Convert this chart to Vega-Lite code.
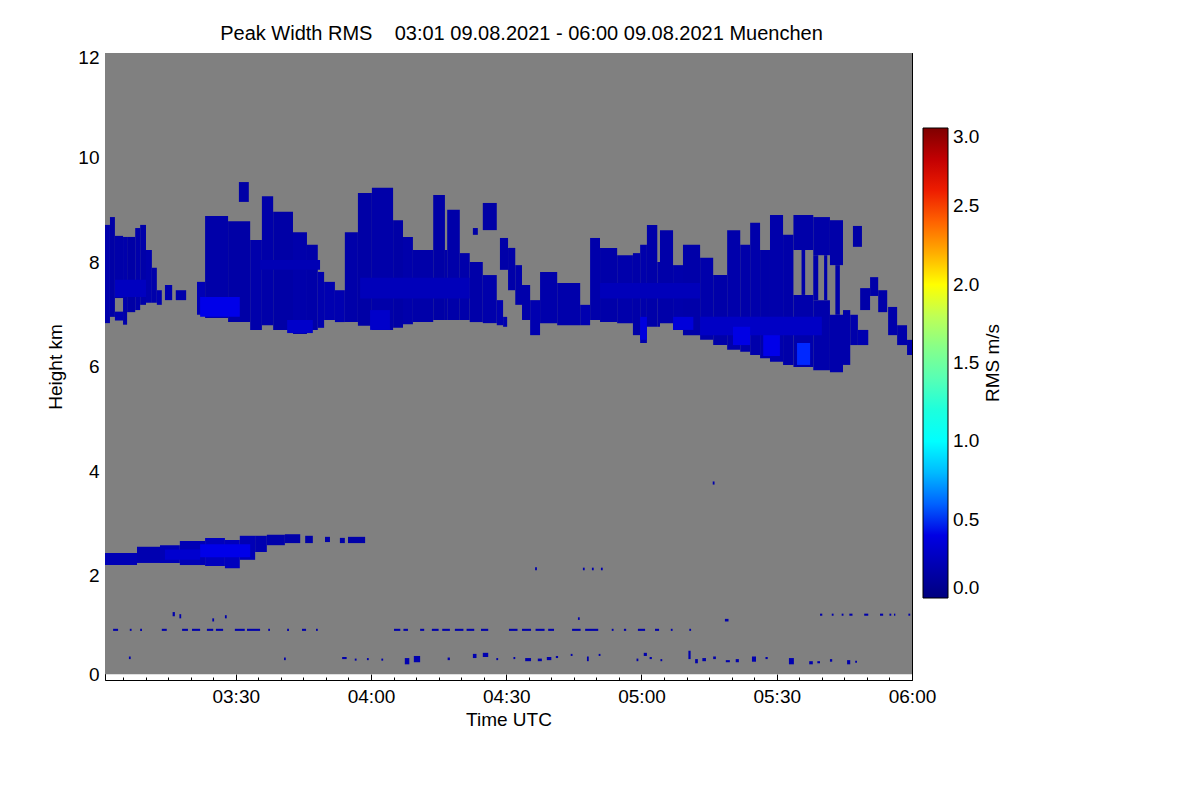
{
  "$schema": "https://vega.github.io/schema/vega-lite/v6.json",
  "width": 807,
  "height": 627,
  "autosize": {"type": "none"},
  "padding": {"left": 105, "top": 53, "right": 288, "bottom": 120},
  "background": "white",
  "title": {
    "text": "Peak Width RMS\u00a0\u00a0\u00a0 03:01 09.08.2021 - 06:00 09.08.2021 Muenchen",
    "font": "Liberation Sans",
    "fontSize": 20,
    "fontWeight": "normal",
    "color": "black",
    "anchor": "middle",
    "dx": 13,
    "offset": 9,
    "dy": 5
  },
  "config": {
    "font": "Liberation Sans",
    "view": {"stroke": null},
    "axis": {
      "grid": false,
      "zindex": 1,
      "tickColor": "black",
      "tickWidth": 1,
      "domainColor": "black",
      "domainWidth": 1,
      "labelFont": "Liberation Sans",
      "labelFontSize": 19,
      "labelColor": "black",
      "titleFont": "Liberation Sans",
      "titleFontSize": 19,
      "titleFontWeight": "normal",
      "titleColor": "black"
    }
  },
  "datasets": {
    "bg": [{"t0": 1, "t1": 180, "h0": 0.11, "h1": 12}],
    "cloud": [
      {"t0": 1, "t1": 2.1, "h0": 6.83, "h1": 8.71, "rms": 0.18},
      {"t0": 2.1, "t1": 3.2, "h0": 6.95, "h1": 8.86, "rms": 0.16},
      {"t0": 3.2, "t1": 5.0, "h0": 7.31, "h1": 8.5, "rms": 0.17},
      {"t0": 3.2, "t1": 5.0, "h0": 6.88, "h1": 7.05, "rms": 0.2},
      {"t0": 5.0, "t1": 5.9, "h0": 6.8, "h1": 8.48, "rms": 0.18},
      {"t0": 5.9, "t1": 7.7, "h0": 7.04, "h1": 8.48, "rms": 0.16},
      {"t0": 7.7, "t1": 8.8, "h0": 7.08, "h1": 8.65, "rms": 0.18},
      {"t0": 8.8, "t1": 10.1, "h0": 7.18, "h1": 8.71, "rms": 0.17},
      {"t0": 10.1, "t1": 11.4, "h0": 7.22, "h1": 8.23, "rms": 0.19},
      {"t0": 11.4, "t1": 12.5, "h0": 7.22, "h1": 7.89, "rms": 0.18},
      {"t0": 12.5, "t1": 13.6, "h0": 7.18, "h1": 7.46, "rms": 0.2},
      {"t0": 14.3, "t1": 15.9, "h0": 7.27, "h1": 7.56, "rms": 0.2},
      {"t0": 16.7, "t1": 19.0, "h0": 7.27, "h1": 7.46, "rms": 0.18},
      {"t0": 21.4, "t1": 23.2, "h0": 6.99, "h1": 7.62, "rms": 0.22},
      {"t0": 23.2, "t1": 28.3, "h0": 6.93, "h1": 8.88, "rms": 0.17},
      {"t0": 28.3, "t1": 33.2, "h0": 6.85, "h1": 8.78, "rms": 0.16},
      {"t0": 33.2, "t1": 35.8, "h0": 6.7, "h1": 8.42, "rms": 0.18},
      {"t0": 35.8, "t1": 38.3, "h0": 6.79, "h1": 9.26, "rms": 0.17},
      {"t0": 38.3, "t1": 42.7, "h0": 6.7, "h1": 8.96, "rms": 0.16},
      {"t0": 42.7, "t1": 45.8, "h0": 6.62, "h1": 8.57, "rms": 0.18},
      {"t0": 45.8, "t1": 48.2, "h0": 6.7, "h1": 8.33, "rms": 0.17},
      {"t0": 48.2, "t1": 49.6, "h0": 6.74, "h1": 7.81, "rms": 0.19},
      {"t0": 49.6, "t1": 52.0, "h0": 6.89, "h1": 7.62, "rms": 0.2},
      {"t0": 52.0, "t1": 54.2, "h0": 6.85, "h1": 7.46, "rms": 0.2},
      {"t0": 30.7, "t1": 32.9, "h0": 9.15, "h1": 9.53, "rms": 0.16},
      {"t0": 54.2, "t1": 57.1, "h0": 6.85, "h1": 8.57, "rms": 0.17},
      {"t0": 57.1, "t1": 60.2, "h0": 6.78, "h1": 9.32, "rms": 0.16},
      {"t0": 60.2, "t1": 64.9, "h0": 6.7, "h1": 9.42, "rms": 0.17},
      {"t0": 64.9, "t1": 67.1, "h0": 6.74, "h1": 8.8, "rms": 0.16},
      {"t0": 67.1, "t1": 69.3, "h0": 6.81, "h1": 8.48, "rms": 0.18},
      {"t0": 69.3, "t1": 73.8, "h0": 6.85, "h1": 8.23, "rms": 0.17},
      {"t0": 73.8, "t1": 76.4, "h0": 6.89, "h1": 9.28, "rms": 0.16},
      {"t0": 76.4, "t1": 76.9, "h0": 6.89, "h1": 8.23, "rms": 0.17},
      {"t0": 76.9, "t1": 79.7, "h0": 6.89, "h1": 9.0, "rms": 0.17},
      {"t0": 79.7, "t1": 81.9, "h0": 6.89, "h1": 8.17, "rms": 0.18},
      {"t0": 81.9, "t1": 84.8, "h0": 6.85, "h1": 8.0, "rms": 0.17},
      {"t0": 84.8, "t1": 87.9, "h0": 6.83, "h1": 7.75, "rms": 0.18},
      {"t0": 84.8, "t1": 87.9, "h0": 8.61, "h1": 9.13, "rms": 0.16},
      {"t0": 87.9, "t1": 89.3, "h0": 6.79, "h1": 7.27, "rms": 0.2},
      {"t0": 89.3, "t1": 90.2, "h0": 6.76, "h1": 6.95, "rms": 0.2},
      {"t0": 82.6, "t1": 83.7, "h0": 8.52, "h1": 8.65, "rms": 0.16},
      {"t0": 88.6, "t1": 90.4, "h0": 7.85, "h1": 8.46, "rms": 0.17},
      {"t0": 90.4, "t1": 92.0, "h0": 7.46, "h1": 8.27, "rms": 0.17},
      {"t0": 92.0, "t1": 93.5, "h0": 7.18, "h1": 7.94, "rms": 0.18},
      {"t0": 93.5, "t1": 95.3, "h0": 6.89, "h1": 7.56, "rms": 0.18},
      {"t0": 95.3, "t1": 97.5, "h0": 6.6, "h1": 7.27, "rms": 0.2},
      {"t0": 97.5, "t1": 101.3, "h0": 6.83, "h1": 7.81, "rms": 0.18},
      {"t0": 101.3, "t1": 106.4, "h0": 6.79, "h1": 7.6, "rms": 0.18},
      {"t0": 106.4, "t1": 108.6, "h0": 6.79, "h1": 7.18, "rms": 0.2},
      {"t0": 108.6, "t1": 110.8, "h0": 6.89, "h1": 8.46, "rms": 0.18},
      {"t0": 110.8, "t1": 114.6, "h0": 6.85, "h1": 8.27, "rms": 0.17},
      {"t0": 114.6, "t1": 118.1, "h0": 6.83, "h1": 8.13, "rms": 0.18},
      {"t0": 118.1, "t1": 119.7, "h0": 6.6, "h1": 8.17, "rms": 0.17},
      {"t0": 119.7, "t1": 121.2, "h0": 6.45, "h1": 8.33, "rms": 0.18},
      {"t0": 121.2, "t1": 123.5, "h0": 6.76, "h1": 8.71, "rms": 0.17},
      {"t0": 123.5, "t1": 124.1, "h0": 6.76, "h1": 8.0, "rms": 0.18},
      {"t0": 124.1, "t1": 127.0, "h0": 6.83, "h1": 8.61, "rms": 0.17},
      {"t0": 127.0, "t1": 129.2, "h0": 6.7, "h1": 7.94, "rms": 0.18},
      {"t0": 129.2, "t1": 133.0, "h0": 6.6, "h1": 8.33, "rms": 0.17},
      {"t0": 133.0, "t1": 135.9, "h0": 6.51, "h1": 8.08, "rms": 0.18},
      {"t0": 135.9, "t1": 139.0, "h0": 6.41, "h1": 7.75, "rms": 0.17},
      {"t0": 139.0, "t1": 141.9, "h0": 6.32, "h1": 8.61, "rms": 0.18},
      {"t0": 141.9, "t1": 144.1, "h0": 6.28, "h1": 8.33, "rms": 0.17},
      {"t0": 144.1, "t1": 146.3, "h0": 6.22, "h1": 8.75, "rms": 0.18},
      {"t0": 146.3, "t1": 148.5, "h0": 6.16, "h1": 8.23, "rms": 0.17},
      {"t0": 148.5, "t1": 151.4, "h0": 6.09, "h1": 8.9, "rms": 0.18},
      {"t0": 151.4, "t1": 153.7, "h0": 6.03, "h1": 8.52, "rms": 0.17},
      {"t0": 153.7, "t1": 158.1, "h0": 8.23, "h1": 8.9, "rms": 0.17},
      {"t0": 153.7, "t1": 158.1, "h0": 5.99, "h1": 7.37, "rms": 0.18},
      {"t0": 155.5, "t1": 156.3, "h0": 7.37, "h1": 8.23, "rms": 0.17},
      {"t0": 158.1, "t1": 161.8, "h0": 8.13, "h1": 8.86, "rms": 0.17},
      {"t0": 158.1, "t1": 161.8, "h0": 5.93, "h1": 7.27, "rms": 0.18},
      {"t0": 158.1, "t1": 159.2, "h0": 7.27, "h1": 8.13, "rms": 0.17},
      {"t0": 160.5, "t1": 161.2, "h0": 7.27, "h1": 8.13, "rms": 0.17},
      {"t0": 161.8, "t1": 164.7, "h0": 7.94, "h1": 8.8, "rms": 0.17},
      {"t0": 161.8, "t1": 164.7, "h0": 5.89, "h1": 6.99, "rms": 0.18},
      {"t0": 163.0, "t1": 164.0, "h0": 6.99, "h1": 7.94, "rms": 0.17},
      {"t0": 164.7, "t1": 166.3, "h0": 6.03, "h1": 7.08, "rms": 0.18},
      {"t0": 166.3, "t1": 168.0, "h0": 6.41, "h1": 6.99, "rms": 0.18},
      {"t0": 168.0, "t1": 170.3, "h0": 6.41, "h1": 6.7, "rms": 0.2},
      {"t0": 166.9, "t1": 168.9, "h0": 8.29, "h1": 8.69, "rms": 0.16},
      {"t0": 168.5, "t1": 170.7, "h0": 7.08, "h1": 7.5, "rms": 0.17},
      {"t0": 170.7, "t1": 172.5, "h0": 7.35, "h1": 7.71, "rms": 0.17},
      {"t0": 172.5, "t1": 174.5, "h0": 7.04, "h1": 7.46, "rms": 0.17},
      {"t0": 174.7, "t1": 176.7, "h0": 6.6, "h1": 7.14, "rms": 0.18},
      {"t0": 176.7, "t1": 178.9, "h0": 6.41, "h1": 6.79, "rms": 0.18},
      {"t0": 178.9, "t1": 180.0, "h0": 6.22, "h1": 6.51, "rms": 0.18},
      {"t0": 1.0, "t1": 8.1, "h0": 2.2, "h1": 2.43, "rms": 0.22},
      {"t0": 8.1, "t1": 13.2, "h0": 2.24, "h1": 2.55, "rms": 0.2},
      {"t0": 13.2, "t1": 17.6, "h0": 2.24, "h1": 2.58, "rms": 0.22},
      {"t0": 17.6, "t1": 23.2, "h0": 2.2, "h1": 2.66, "rms": 0.22},
      {"t0": 23.2, "t1": 27.6, "h0": 2.18, "h1": 2.72, "rms": 0.25},
      {"t0": 27.6, "t1": 30.9, "h0": 2.14, "h1": 2.68, "rms": 0.25},
      {"t0": 30.9, "t1": 34.3, "h0": 2.3, "h1": 2.76, "rms": 0.22},
      {"t0": 34.3, "t1": 36.9, "h0": 2.45, "h1": 2.76, "rms": 0.2},
      {"t0": 36.9, "t1": 40.9, "h0": 2.58, "h1": 2.78, "rms": 0.18},
      {"t0": 40.9, "t1": 44.3, "h0": 2.62, "h1": 2.79, "rms": 0.17},
      {"t0": 45.4, "t1": 47.1, "h0": 2.62, "h1": 2.76, "rms": 0.17},
      {"t0": 49.8, "t1": 50.9, "h0": 2.64, "h1": 2.74, "rms": 0.17},
      {"t0": 53.1, "t1": 54.2, "h0": 2.62, "h1": 2.72, "rms": 0.17},
      {"t0": 54.9, "t1": 58.7, "h0": 2.62, "h1": 2.74, "rms": 0.17}
    ],
    "bright": [
      {"t0": 3.2, "t1": 10.1, "h0": 7.33, "h1": 7.66, "rms": 0.26},
      {"t0": 22.1, "t1": 30.9, "h0": 6.95, "h1": 7.33, "rms": 0.42},
      {"t0": 41.4, "t1": 47.1, "h0": 6.64, "h1": 6.89, "rms": 0.3},
      {"t0": 35.4, "t1": 48.7, "h0": 7.85, "h1": 8.04, "rms": 0.22},
      {"t0": 59.8, "t1": 64.2, "h0": 6.7, "h1": 7.08, "rms": 0.3},
      {"t0": 57.6, "t1": 81.9, "h0": 7.3, "h1": 7.7, "rms": 0.24},
      {"t0": 110.8, "t1": 133.0, "h0": 7.3, "h1": 7.6, "rms": 0.24},
      {"t0": 133.0, "t1": 160.0, "h0": 6.6, "h1": 6.95, "rms": 0.28},
      {"t0": 119.7, "t1": 121.2, "h0": 6.51, "h1": 6.95, "rms": 0.38},
      {"t0": 127.0, "t1": 131.5, "h0": 6.7, "h1": 6.95, "rms": 0.36},
      {"t0": 140.3, "t1": 144.1, "h0": 6.41, "h1": 6.76, "rms": 0.4},
      {"t0": 147.0, "t1": 150.7, "h0": 6.2, "h1": 6.6, "rms": 0.42},
      {"t0": 154.5, "t1": 157.4, "h0": 6.03, "h1": 6.45, "rms": 0.52},
      {"t0": 14.3, "t1": 22.1, "h0": 2.3, "h1": 2.5, "rms": 0.32},
      {"t0": 22.1, "t1": 33.2, "h0": 2.35, "h1": 2.6, "rms": 0.42}
    ],
    "dots": [
      {"t0": 2.8, "t1": 3.9, "h0": 0.94, "h1": 0.98, "rms": 0.18},
      {"t0": 6.5, "t1": 6.9, "h0": 0.94, "h1": 0.98, "rms": 0.18},
      {"t0": 8.8, "t1": 9.2, "h0": 0.94, "h1": 0.98, "rms": 0.18},
      {"t0": 13.6, "t1": 14.7, "h0": 0.94, "h1": 0.98, "rms": 0.18},
      {"t0": 18.1, "t1": 19.4, "h0": 0.94, "h1": 0.98, "rms": 0.18},
      {"t0": 20.3, "t1": 22.1, "h0": 0.94, "h1": 0.98, "rms": 0.18},
      {"t0": 23.6, "t1": 25.0, "h0": 0.94, "h1": 0.98, "rms": 0.18},
      {"t0": 25.6, "t1": 27.2, "h0": 0.94, "h1": 0.98, "rms": 0.18},
      {"t0": 29.8, "t1": 32.0, "h0": 0.94, "h1": 0.98, "rms": 0.18},
      {"t0": 32.5, "t1": 35.4, "h0": 0.94, "h1": 0.98, "rms": 0.18},
      {"t0": 37.2, "t1": 37.6, "h0": 0.94, "h1": 0.98, "rms": 0.18},
      {"t0": 41.4, "t1": 41.8, "h0": 0.94, "h1": 0.98, "rms": 0.18},
      {"t0": 44.7, "t1": 45.6, "h0": 0.94, "h1": 0.98, "rms": 0.18},
      {"t0": 47.8, "t1": 48.2, "h0": 0.94, "h1": 0.98, "rms": 0.18},
      {"t0": 65.1, "t1": 66.5, "h0": 0.94, "h1": 0.98, "rms": 0.18},
      {"t0": 67.2, "t1": 68.2, "h0": 0.94, "h1": 0.98, "rms": 0.18},
      {"t0": 70.9, "t1": 71.8, "h0": 0.94, "h1": 0.98, "rms": 0.18},
      {"t0": 73.5, "t1": 75.0, "h0": 0.94, "h1": 0.98, "rms": 0.18},
      {"t0": 75.8, "t1": 77.5, "h0": 0.94, "h1": 0.98, "rms": 0.18},
      {"t0": 78.6, "t1": 80.5, "h0": 0.94, "h1": 0.98, "rms": 0.18},
      {"t0": 81.2, "t1": 82.9, "h0": 0.94, "h1": 0.98, "rms": 0.18},
      {"t0": 84.4, "t1": 86.0, "h0": 0.94, "h1": 0.98, "rms": 0.18},
      {"t0": 90.6, "t1": 92.5, "h0": 0.94, "h1": 0.98, "rms": 0.18},
      {"t0": 93.5, "t1": 95.5, "h0": 0.94, "h1": 0.98, "rms": 0.18},
      {"t0": 96.5, "t1": 98.5, "h0": 0.94, "h1": 0.98, "rms": 0.18},
      {"t0": 99.3, "t1": 100.6, "h0": 0.94, "h1": 0.98, "rms": 0.18},
      {"t0": 104.6, "t1": 106.5, "h0": 0.94, "h1": 0.98, "rms": 0.18},
      {"t0": 107.5, "t1": 110.4, "h0": 0.94, "h1": 0.98, "rms": 0.18},
      {"t0": 113.4, "t1": 113.8, "h0": 0.94, "h1": 0.98, "rms": 0.18},
      {"t0": 116.1, "t1": 116.6, "h0": 0.94, "h1": 0.98, "rms": 0.18},
      {"t0": 119.2, "t1": 120.8, "h0": 0.94, "h1": 0.98, "rms": 0.18},
      {"t0": 123.0, "t1": 123.9, "h0": 0.94, "h1": 0.98, "rms": 0.18},
      {"t0": 126.5, "t1": 126.9, "h0": 0.94, "h1": 0.98, "rms": 0.18},
      {"t0": 130.6, "t1": 131.0, "h0": 0.94, "h1": 0.98, "rms": 0.18},
      {"t0": 159.6, "t1": 160.1, "h0": 1.23, "h1": 1.27, "rms": 0.18},
      {"t0": 162.2, "t1": 162.6, "h0": 1.23, "h1": 1.27, "rms": 0.18},
      {"t0": 164.4, "t1": 164.8, "h0": 1.23, "h1": 1.27, "rms": 0.18},
      {"t0": 166.1, "t1": 166.8, "h0": 1.23, "h1": 1.27, "rms": 0.18},
      {"t0": 169.4, "t1": 170.3, "h0": 1.23, "h1": 1.27, "rms": 0.18},
      {"t0": 172.9, "t1": 173.6, "h0": 1.23, "h1": 1.27, "rms": 0.18},
      {"t0": 175.0, "t1": 175.4, "h0": 1.23, "h1": 1.27, "rms": 0.18},
      {"t0": 176.0, "t1": 176.3, "h0": 1.23, "h1": 1.27, "rms": 0.18},
      {"t0": 179.2, "t1": 179.6, "h0": 1.23, "h1": 1.27, "rms": 0.18},
      {"t0": 6.3, "t1": 6.7, "h0": 0.4, "h1": 0.45, "rms": 0.18},
      {"t0": 40.7, "t1": 41.1, "h0": 0.38, "h1": 0.43, "rms": 0.18},
      {"t0": 53.6, "t1": 54.6, "h0": 0.4, "h1": 0.44, "rms": 0.18},
      {"t0": 56.4, "t1": 56.8, "h0": 0.37, "h1": 0.41, "rms": 0.18},
      {"t0": 59.1, "t1": 59.5, "h0": 0.38, "h1": 0.42, "rms": 0.18},
      {"t0": 62.3, "t1": 62.7, "h0": 0.37, "h1": 0.41, "rms": 0.18},
      {"t0": 67.5, "t1": 68.5, "h0": 0.3, "h1": 0.42, "rms": 0.2},
      {"t0": 69.5, "t1": 70.9, "h0": 0.34, "h1": 0.46, "rms": 0.2},
      {"t0": 77.0, "t1": 77.5, "h0": 0.38, "h1": 0.43, "rms": 0.18},
      {"t0": 82.6, "t1": 83.4, "h0": 0.42, "h1": 0.5, "rms": 0.2},
      {"t0": 84.8, "t1": 86.0, "h0": 0.44, "h1": 0.52, "rms": 0.2},
      {"t0": 87.8, "t1": 88.2, "h0": 0.38, "h1": 0.42, "rms": 0.18},
      {"t0": 91.6, "t1": 92.0, "h0": 0.4, "h1": 0.44, "rms": 0.18},
      {"t0": 94.2, "t1": 95.5, "h0": 0.36, "h1": 0.42, "rms": 0.18},
      {"t0": 97.0, "t1": 97.9, "h0": 0.36, "h1": 0.41, "rms": 0.18},
      {"t0": 99.0, "t1": 100.0, "h0": 0.38, "h1": 0.44, "rms": 0.18},
      {"t0": 101.0, "t1": 101.5, "h0": 0.42, "h1": 0.46, "rms": 0.18},
      {"t0": 104.3, "t1": 104.7, "h0": 0.46, "h1": 0.5, "rms": 0.18},
      {"t0": 107.9, "t1": 108.3, "h0": 0.36, "h1": 0.45, "rms": 0.18},
      {"t0": 110.5, "t1": 110.9, "h0": 0.46, "h1": 0.5, "rms": 0.18},
      {"t0": 118.9, "t1": 119.3, "h0": 0.36, "h1": 0.41, "rms": 0.18},
      {"t0": 120.5, "t1": 121.2, "h0": 0.46, "h1": 0.52, "rms": 0.18},
      {"t0": 121.8, "t1": 122.3, "h0": 0.4, "h1": 0.44, "rms": 0.18},
      {"t0": 124.2, "t1": 124.6, "h0": 0.36, "h1": 0.4, "rms": 0.18},
      {"t0": 130.4, "t1": 130.9, "h0": 0.4, "h1": 0.56, "rms": 0.2},
      {"t0": 131.9, "t1": 132.5, "h0": 0.32, "h1": 0.4, "rms": 0.18},
      {"t0": 133.5, "t1": 134.3, "h0": 0.36, "h1": 0.42, "rms": 0.18},
      {"t0": 135.9, "t1": 136.5, "h0": 0.4, "h1": 0.45, "rms": 0.18},
      {"t0": 138.7, "t1": 139.6, "h0": 0.34, "h1": 0.38, "rms": 0.18},
      {"t0": 140.9, "t1": 141.6, "h0": 0.34, "h1": 0.4, "rms": 0.18},
      {"t0": 144.5, "t1": 145.4, "h0": 0.35, "h1": 0.45, "rms": 0.2},
      {"t0": 147.5, "t1": 148.0, "h0": 0.4, "h1": 0.44, "rms": 0.18},
      {"t0": 152.7, "t1": 153.8, "h0": 0.3, "h1": 0.42, "rms": 0.2},
      {"t0": 157.2, "t1": 158.0, "h0": 0.3, "h1": 0.36, "rms": 0.18},
      {"t0": 159.0, "t1": 159.6, "h0": 0.32, "h1": 0.36, "rms": 0.18},
      {"t0": 161.8, "t1": 162.3, "h0": 0.35, "h1": 0.4, "rms": 0.18},
      {"t0": 165.6, "t1": 166.3, "h0": 0.3, "h1": 0.38, "rms": 0.18},
      {"t0": 167.4, "t1": 167.8, "h0": 0.33, "h1": 0.37, "rms": 0.18},
      {"t0": 16.0, "t1": 16.5, "h0": 1.22, "h1": 1.3, "rms": 0.18},
      {"t0": 17.5, "t1": 17.9, "h0": 1.18, "h1": 1.26, "rms": 0.18},
      {"t0": 24.8, "t1": 25.2, "h0": 1.12, "h1": 1.18, "rms": 0.18},
      {"t0": 27.6, "t1": 28.0, "h0": 1.18, "h1": 1.24, "rms": 0.18},
      {"t0": 96.4, "t1": 96.8, "h0": 2.1, "h1": 2.16, "rms": 0.18},
      {"t0": 107.0, "t1": 107.4, "h0": 2.1, "h1": 2.15, "rms": 0.18},
      {"t0": 109.0, "t1": 109.4, "h0": 2.1, "h1": 2.15, "rms": 0.18},
      {"t0": 111.0, "t1": 111.4, "h0": 2.1, "h1": 2.15, "rms": 0.18},
      {"t0": 105.9, "t1": 106.3, "h0": 1.15, "h1": 1.2, "rms": 0.18},
      {"t0": 138.5, "t1": 139.3, "h0": 1.12, "h1": 1.17, "rms": 0.18},
      {"t0": 135.8, "t1": 136.2, "h0": 3.74, "h1": 3.8, "rms": 0.18}
    ]
  },
  "layer": [
    {
      "data": {"name": "bg"},
      "mark": {"type": "rect", "color": "#808080", "strokeWidth": 0},
      "encoding": {
        "x": {
          "field": "t0", "type": "quantitative",
          "scale": {"domain": [1, 180], "nice": false, "zero": false},
          "axis": {
            "orient": "bottom",
            "values": [30, 60, 90, 120, 150, 180],
            "labelExpr": "(floor(datum.value/60)+3 < 10 ? '0' : '') + (floor(datum.value/60)+3) + ':' + (datum.value%60 < 10 ? '0' : '') + (datum.value%60)",
            "labelFlush": false,
            "labelPadding": 13,
            "tickSize": -6,
            "domain": true,
            "title": "Time UTC",
            "titlePadding": 4
          }
        },
        "x2": {"field": "t1"},
        "y": {
          "field": "h0", "type": "quantitative",
          "scale": {"domain": [0, 12], "nice": false, "zero": false},
          "axis": {
            "orient": "left",
            "values": [0, 2, 4, 6, 8, 10, 12],
            "labelFlush": false,
            "labelPadding": 12,
            "labelOffset": {"condition": [{"test": "datum.value == 0", "value": -6}, {"test": "datum.value == 12", "value": 4}], "value": 0},
            "tickSize": -6,
            "domain": true,
            "title": "Height km",
            "titlePadding": 12
          }
        },
        "y2": {"field": "h1"}
      }
    },
    {
      "data": {"name": "cloud"},
      "mark": {"type": "rect", "strokeWidth": 0},
      "encoding": {
        "x": {
          "field": "t0", "type": "quantitative",
          "axis": {
            "orient": "bottom",
            "values": [5, 10, 15, 20, 25, 35, 40, 45, 50, 55, 65, 70, 75, 80, 85, 95, 100, 105, 110, 115, 125, 130, 135, 140, 145, 155, 160, 165, 170, 175],
            "labels": false, "tickSize": -3, "domain": false, "title": null
          }
        },
        "x2": {"field": "t1"},
        "y": {
          "field": "h0", "type": "quantitative",
          "axis": {
            "orient": "left",
            "values": [0.5, 1, 1.5, 2.5, 3, 3.5, 4.5, 5, 5.5, 6.5, 7, 7.5, 8.5, 9, 9.5, 10.5, 11, 11.5],
            "labels": false, "tickSize": -3, "domain": false, "title": null
          }
        },
        "y2": {"field": "h1"},
        "color": {
          "field": "rms", "type": "quantitative",
          "scale": {
            "domain": [0, 0.5, 1, 1.5, 2, 2.25, 2.5, 2.75, 3],
            "range": ["#00007f", "#0000ff", "#00ffff", "#70ffa0", "#ffff00", "#ff9a00", "#ff2a00", "#d40000", "#7f0000"]
          },
          "legend": {
            "type": "gradient",
            "orient": "none",
            "legendX": 818,
            "legendY": 75,
            "direction": "vertical",
            "gradientLength": 470,
            "gradientThickness": 25,
            "gradientStrokeColor": "black",
            "gradientStrokeWidth": 1,
            "values": [0, 0.5, 1, 1.5, 2, 2.5, 3],
            "format": ".1f",
            "labelFont": "Liberation Sans",
            "labelFontSize": 19,
            "labelColor": "black",
            "labelOffset": 5,
            "title": "RMS m/s",
            "titleOrient": "right",
            "titleAnchor": "middle",
            "titleFont": "Liberation Sans",
            "titleFontSize": 19,
            "titleFontWeight": "normal",
            "titleColor": "black",
            "titlePadding": 4,
            "encode": {"title": {"update": {"angle": {"value": 270}, "dy": {"value": 20}}}}
          }
        }
      }
    },
    {
      "data": {"name": "bright"},
      "mark": {"type": "rect", "strokeWidth": 0},
      "encoding": {
        "x": {
          "field": "t0", "type": "quantitative",
          "axis": {
            "orient": "top",
            "values": [30, 60, 90, 120, 150, 180],
            "labels": false, "tickSize": -6, "domain": true, "title": null
          }
        },
        "x2": {"field": "t1"},
        "y": {
          "field": "h0", "type": "quantitative",
          "axis": {
            "orient": "right",
            "values": [0, 2, 4, 6, 8, 10, 12],
            "labels": false, "tickSize": -6, "domain": true, "title": null
          }
        },
        "y2": {"field": "h1"},
        "color": {"field": "rms", "type": "quantitative"}
      }
    },
    {
      "data": {"name": "dots"},
      "mark": {"type": "rect", "strokeWidth": 0},
      "encoding": {
        "x": {
          "field": "t0", "type": "quantitative",
          "axis": {
            "orient": "top",
            "values": [5, 10, 15, 20, 25, 35, 40, 45, 50, 55, 65, 70, 75, 80, 85, 95, 100, 105, 110, 115, 125, 130, 135, 140, 145, 155, 160, 165, 170, 175],
            "labels": false, "tickSize": -3, "domain": false, "title": null
          }
        },
        "x2": {"field": "t1"},
        "y": {
          "field": "h0", "type": "quantitative",
          "axis": {
            "orient": "right",
            "values": [0.5, 1, 1.5, 2.5, 3, 3.5, 4.5, 5, 5.5, 6.5, 7, 7.5, 8.5, 9, 9.5, 10.5, 11, 11.5],
            "labels": false, "tickSize": -3, "domain": false, "title": null
          }
        },
        "y2": {"field": "h1"},
        "color": {"field": "rms", "type": "quantitative"}
      }
    }
  ],
  "resolve": {
    "scale": {"x": "shared", "y": "shared", "color": "shared"},
    "axis": {"x": "independent", "y": "independent"}
  }
}
